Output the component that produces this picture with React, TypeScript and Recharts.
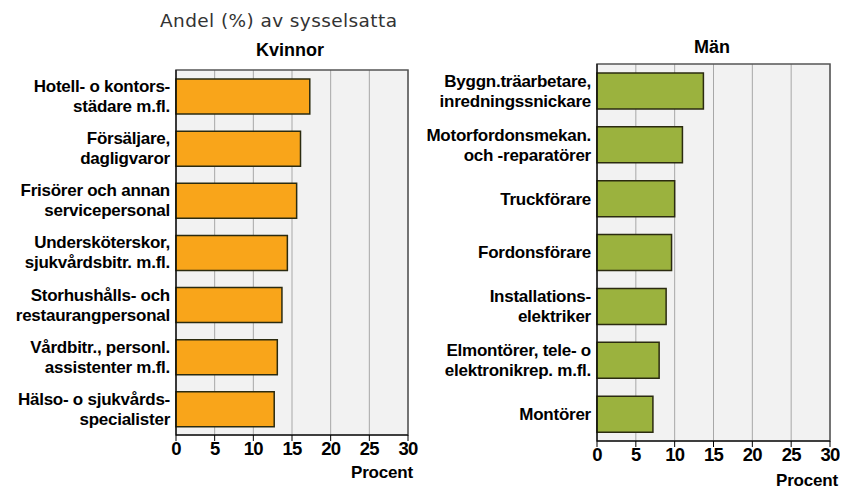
import { BarChart, Bar, XAxis, YAxis, CartesianGrid, ReferenceArea } from 'recharts'

const womenLabels = [
  'Hotell- o kontors-\nstädare m.fl.',
  'Försäljare,\ndagligvaror',
  'Frisörer och annan\nservicepersonal',
  'Undersköterskor,\nsjukvårdsbitr. m.fl.',
  'Storhushålls- och\nrestaurangpersonal',
  'Vårdbitr., personl.\nassistenter m.fl.',
  'Hälso- o sjukvårds-\nspecialister',
]
const womenValues = [17.3, 16.1, 15.6, 14.4, 13.7, 13.1, 12.7]

const menLabels = [
  'Byggn.träarbetare,\ninredningssnickare',
  'Motorfordonsmekan.\noch -reparatörer',
  'Truckförare',
  'Fordonsförare',
  'Installations-\nelektriker',
  'Elmontörer, tele- o\nelektronikrep. m.fl.',
  'Montörer',
]
const menValues = [13.7, 11.0, 10.0, 9.6, 8.9, 8.0, 7.2]

const xTicks = [0, 5, 10, 15, 20, 25, 30]

const FONT = '"Liberation Sans", Arial, sans-serif'

function CatTick(props: any) {
  const { x, y, payload } = props
  const lines = String(payload.value).split('\n')
  const lh = 20
  const y0 = y - ((lines.length - 1) * lh) / 2
  return (
    <text x={x} y={y} textAnchor="end" fontSize={17} fontWeight="bold" fontFamily={FONT} fill="#000" letterSpacing={-0.25}>
      {lines.map((l, i) => (
        <tspan key={i} x={x} y={y0 + i * lh} dy="0.35em">{l}</tspan>
      ))}
    </text>
  )
}

function Panel({ labels, values, color, barSize, margin }: {
  labels: string[]; values: number[]; color: string; barSize: number
  margin: { top: number; right: number; bottom: number; left: number }
}) {
  const data = labels.map((name, i) => ({ name, value: values[i] }))
  return (
    <BarChart width={420} height={491} data={data} layout="vertical" margin={margin}>
      <CartesianGrid horizontal={false} fill="#f2f2f2" stroke="#a8a8a8" />
      <XAxis
        type="number"
        domain={[0, 30]}
        ticks={xTicks}
        height={30}
        tickSize={6}
        tickMargin={1}
        stroke="#000"
        tick={{ fontSize: 18.5, fontWeight: 'bold', fontFamily: FONT, fill: '#000', letterSpacing: -0.8 }}
      />
      <YAxis
        type="category"
        dataKey="name"
        width={177}
        tick={<CatTick />}
        tickLine={false}
        tickSize={4}
        tickMargin={2}
        stroke="#000"
        interval={0}
      />
      <Bar dataKey="value" fill={color} stroke="#2b2b10" strokeWidth={1.5} barSize={barSize} isAnimationActive={false} />
      <ReferenceArea x1={0} x2={30} fill="none" stroke="#555" strokeWidth={1.5} ifOverflow="visible" />
    </BarChart>
  )
}

const txt = { position: 'absolute' as const, fontFamily: FONT, color: '#000', whiteSpace: 'nowrap' as const }

export default function App() {
  return (
    <div style={{ position: 'absolute', left: 0, top: 0, width: 841, height: 491, background: '#fff' }}>
      <div style={{ ...txt, left: 160, top: 10, fontSize: 18.5, fontFamily: '"DejaVu Sans", sans-serif', color: '#333', letterSpacing: 0.4 }}>
        Andel (%) av sysselsatta
      </div>
      <div style={{ ...txt, left: 256, top: 40, fontSize: 18, fontWeight: 'bold' }}>Kvinnor</div>
      <div style={{ ...txt, left: 694, top: 37, fontSize: 18, fontWeight: 'bold' }}>Män</div>
      <div style={{ position: 'absolute', left: 0, top: 0 }}>
        <Panel labels={womenLabels} values={womenValues} color="#f9a51a" barSize={35}
          margin={{ top: 70, right: 12, bottom: 26, left: -1 }} />
      </div>
      <div style={{ position: 'absolute', left: 420, top: 0 }}>
        <Panel labels={menLabels} values={menValues} color="#9bb23e" barSize={36}
          margin={{ top: 64, right: 10, bottom: 20, left: 0 }} />
      </div>
      <div style={{ ...txt, left: 351, top: 463, fontSize: 17, fontWeight: 'bold', letterSpacing: -0.2 }}>Procent</div>
      <div style={{ ...txt, left: 776, top: 471, fontSize: 17, fontWeight: 'bold', letterSpacing: -0.2 }}>Procent</div>
    </div>
  )
}
